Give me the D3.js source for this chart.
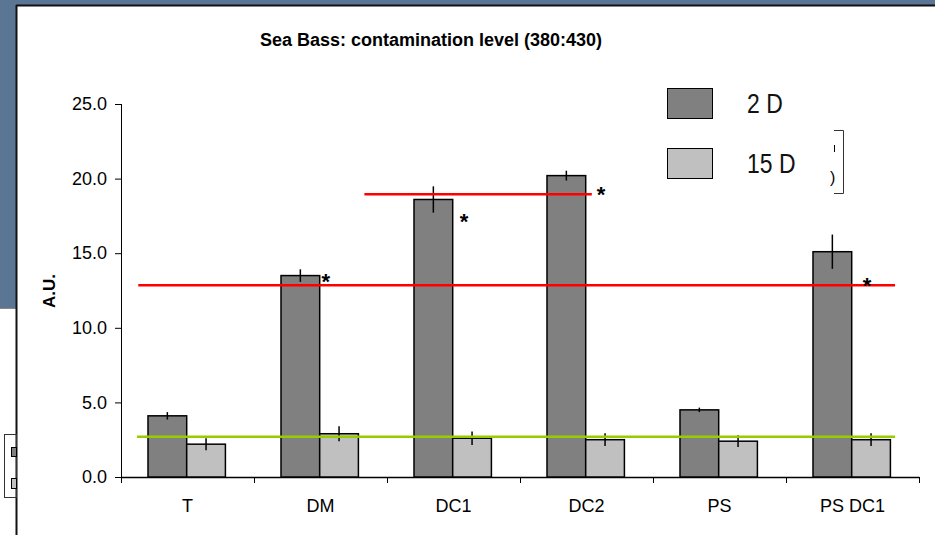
<!DOCTYPE html>
<html>
<head>
<meta charset="utf-8">
<script src="https://cdn.jsdelivr.net/npm/d3@7"></script>
<style>
  html, body { margin: 0; padding: 0; background: #ffffff; }
  svg { display: block; }
  text { font-family: "Liberation Sans", Arial, sans-serif; }
</style>
</head>
<body>
<svg id="chart" width="935" height="535"></svg>
<script>
// ---- data ----
const categories = ["T", "DM", "DC1", "DC2", "PS", "PS DC1"];
const seriesNames = ["2 D", "15 D"];
const values2D  = [4.1, 13.5, 18.6, 20.2, 4.5, 15.1];
const values15D = [2.2, 2.9, 2.6, 2.5, 2.4, 2.5];
const errors2D  = [0.25, 0.42, 0.88, 0.33, 0.15, 1.15];
const errors15D = [0.4, 0.5, 0.45, 0.43, 0.39, 0.43];
const yTicks = [0, 5, 10, 15, 20, 25];
// reference lines: level, start/end in category units
const refLevels = [12.85, 18.95, 2.7];
const refStarts = [0.13, 1.83, 0.12];
const refEnds   = [5.82, 3.54, 5.82];
const refColors = ["#ff0000", "#ff0000", "#99cc00"];
// significance asterisks: position in category units and value level
const starPos    = [1.54, 2.58, 3.61, 5.61];
const starLevels = [13.4, 17.43, 19.24, 13.14];

const W = 935, H = 535;
const svg = d3.select("#chart");

// background (slide) framing
svg.append("rect").attr("x", 0).attr("y", 0).attr("width", W).attr("height", H).attr("fill", "#ffffff");
svg.append("rect").attr("x", 0).attr("y", 0).attr("width", W).attr("height", 5).attr("fill", "#5b7695");
svg.append("rect").attr("x", 0).attr("y", 0).attr("width", 16).attr("height", 308).attr("fill", "#5b7695");
svg.append("line").attr("x1", 0).attr("x2", 16).attr("y1", 308.5).attr("y2", 308.5).attr("stroke", "#888").attr("stroke-width", 1);
svg.append("line").attr("x1", 16).attr("x2", W).attr("y1", 5.5).attr("y2", 5.5).attr("stroke", "#111").attr("stroke-width", 2);
svg.append("line").attr("x1", 16.5).attr("x2", 16.5).attr("y1", 5).attr("y2", H).attr("stroke", "#111").attr("stroke-width", 2);

// hidden legend remnant on the left
svg.append("rect").attr("x", 4.5).attr("y", 434.5).attr("width", 12).attr("height", 63).attr("fill", "none").attr("stroke", "#333").attr("stroke-width", 1);
svg.append("rect").attr("x", 11.5).attr("y", 447.5).attr("width", 5).attr("height", 9).attr("fill", "#808080").attr("stroke", "#000");
svg.append("rect").attr("x", 11.5).attr("y", 478.5).attr("width", 5).attr("height", 10).attr("fill", "#c0c0c0").attr("stroke", "#000");

// scales
const plotLeft = 121, plotRight = 919;
const y = d3.scaleLinear().domain([0, 25]).range([477, 104]);
const xCat = d3.scaleBand().domain(categories).range([plotLeft, plotRight]).paddingInner(0).paddingOuter(0);
const xUnit = d3.scaleLinear().domain([0, categories.length]).range([plotLeft, plotRight]);
const xSeries = d3.scaleBand().domain(seriesNames)
  .range([xCat.bandwidth() * 0.203, xCat.bandwidth() * 0.785]).padding(0);
const colors = d3.scaleOrdinal().domain(seriesNames).range(["#808080", "#c0c0c0"]);

// title
svg.append("text").attr("x", 431).attr("y", 46).attr("text-anchor", "middle")
  .style("font-size", "18px").style("font-weight", "bold")
  .text("Sea Bass: contamination level (380:430)");

// y axis
const yAxis = d3.axisLeft(y).tickValues(yTicks).tickFormat(d3.format(".1f")).tickSize(6).tickSizeOuter(0).tickPadding(8);
const gy = svg.append("g").attr("transform", `translate(${plotLeft},0)`).call(yAxis);
gy.select(".domain").remove();
gy.selectAll(".tick line").attr("stroke", "#000");
gy.selectAll(".tick text").style("font-size", "18px").attr("fill", "#000")
  .style("font-family", "'Liberation Sans', Arial, sans-serif");
svg.append("line").attr("x1", plotLeft + 0.5).attr("x2", plotLeft + 0.5)
  .attr("y1", y(25)).attr("y2", y(0) + 6).attr("stroke", "#000").attr("stroke-width", 1);

// y label
svg.append("text").attr("transform", `translate(55,${291}) rotate(-90)`).attr("text-anchor", "middle")
  .style("font-size", "17px").style("font-weight", "bold").text("A.U.");

// x axis
const xAxis = d3.axisBottom(xUnit).tickValues(d3.range(1, categories.length + 1)).tickFormat("").tickSize(6).tickSizeOuter(0);
const gx = svg.append("g").attr("transform", `translate(0,${y(0)})`).call(xAxis);
gx.select(".domain").attr("stroke", "#000").attr("stroke-width", 1.5);
gx.selectAll(".tick line").attr("stroke", "#000");

svg.append("g").selectAll("text").data(categories).join("text")
  .attr("x", d => xCat(d) + xCat.bandwidth() / 2)
  .attr("y", 512)
  .attr("text-anchor", "middle")
  .style("font-size", "18px")
  .text(d => d);

// bars
const rows = categories.map((c, i) => ({
  cat: c,
  items: [
    { s: seriesNames[0], v: values2D[i], e: errors2D[i] },
    { s: seriesNames[1], v: values15D[i], e: errors15D[i] }
  ]
}));

const groups = svg.append("g").selectAll("g").data(rows).join("g")
  .attr("transform", d => `translate(${xCat(d.cat)},0)`);

groups.selectAll("rect").data(d => d.items).join("rect")
  .attr("x", d => xSeries(d.s))
  .attr("y", d => y(d.v))
  .attr("width", xSeries.bandwidth())
  .attr("height", d => y(0) - y(d.v))
  .attr("fill", d => colors(d.s))
  .attr("stroke", "#000")
  .attr("stroke-width", 1.5);

groups.selectAll("line.err").data(d => d.items).join("line")
  .attr("class", "err")
  .attr("x1", d => xSeries(d.s) + xSeries.bandwidth() / 2)
  .attr("x2", d => xSeries(d.s) + xSeries.bandwidth() / 2)
  .attr("y1", d => y(d.v + d.e))
  .attr("y2", d => y(d.v - d.e))
  .attr("stroke", "#000")
  .attr("stroke-width", 1.5);

// reference lines
svg.append("g").selectAll("line").data(refLevels).join("line")
  .attr("x1", (d, i) => xUnit(refStarts[i]))
  .attr("x2", (d, i) => xUnit(refEnds[i]))
  .attr("y1", d => y(d))
  .attr("y2", d => y(d))
  .attr("stroke", (d, i) => refColors[i])
  .attr("stroke-width", 2.5);

// asterisks
svg.append("g").selectAll("text").data(starLevels).join("text")
  .attr("x", (d, i) => xUnit(starPos[i]))
  .attr("y", d => y(d) + 12)
  .attr("text-anchor", "middle")
  .style("font-size", "22px")
  .style("font-weight", "bold")
  .text("*");

// legend
const legend = svg.append("g");
seriesNames.forEach((s, i) => {
  legend.append("rect").attr("x", 667.5).attr("y", 88.5 + i * 60).attr("width", 45).attr("height", 30)
    .attr("fill", colors(s)).attr("stroke", "#000").attr("stroke-width", 1);
  legend.append("text").attr("transform", `translate(747,${113 + i * 60}) scale(0.82,1)`)
    .style("font-family", "'Liberation Sans', Arial, sans-serif")
    .style("font-size", "28px").attr("fill", "#111").text(s);
});

// partially hidden bracket remnant on the right of legend
svg.append("path").attr("d", "M834,130.5 H843.5 V193.5 H834").attr("fill", "none").attr("stroke", "#333").attr("stroke-width", 1);
svg.append("line").attr("x1", 834.5).attr("x2", 834.5).attr("y1", 145).attr("y2", 152).attr("stroke", "#000");
svg.append("text").attr("x", 830).attr("y", 183).style("font-size", "16px").text(")");
</script>
</body>
</html>
